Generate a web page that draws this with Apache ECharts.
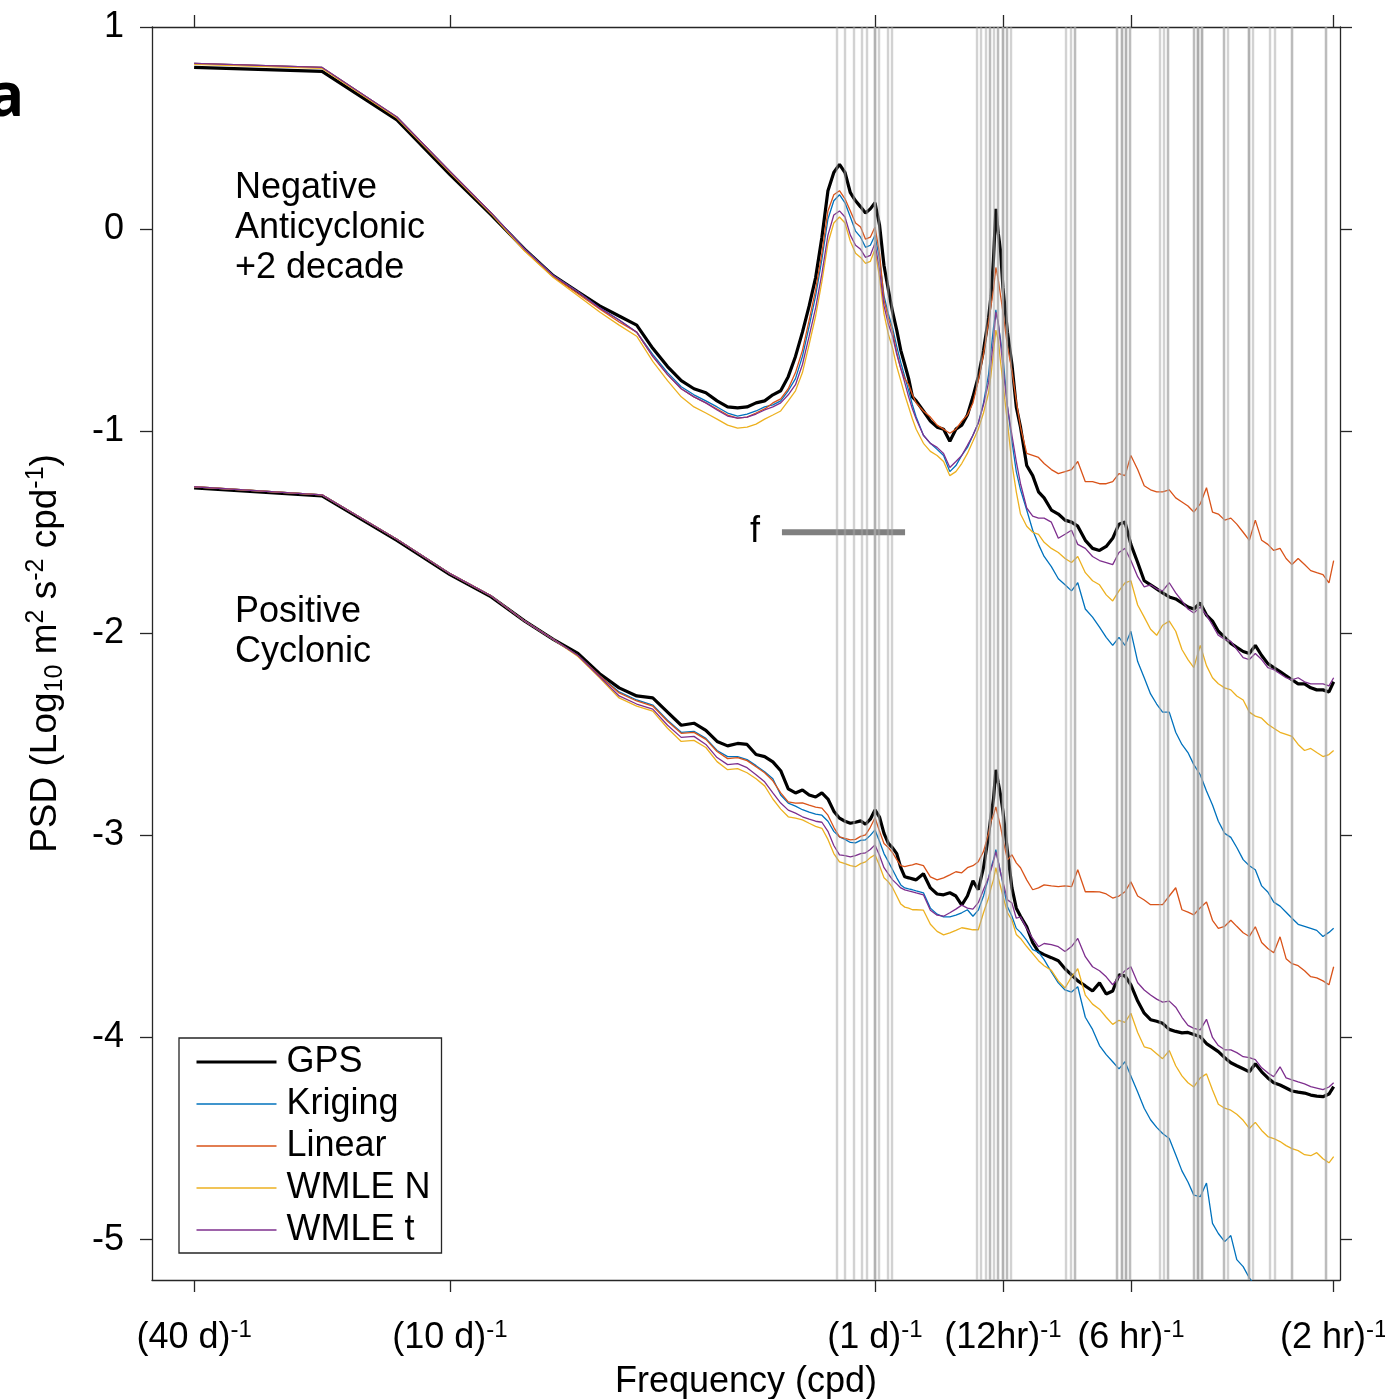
<!DOCTYPE html>
<html>
<head>
<meta charset="utf-8">
<title>PSD rotary spectra</title>
<script src="https://cdn.jsdelivr.net/npm/echarts@6/dist/echarts.min.js"></script>
<style>
html, body { margin: 0; padding: 0; background: #fff; }
#chart { width: 1385px; height: 1399px; }
</style>
</head>
<body>
<div id="chart"></div>
<script>
// frequency grid (cpd), 40 day record
var freq = [
    0.025, 0.05, 0.075, 0.1, 0.125, 0.15, 0.175, 0.2, 0.225, 0.25,
    0.275, 0.3, 0.325, 0.35, 0.375, 0.4, 0.425, 0.45, 0.475, 0.5,
    0.525, 0.55, 0.575, 0.6, 0.625, 0.65, 0.675, 0.7, 0.725, 0.75,
    0.775, 0.8, 0.825, 0.85, 0.875, 0.9, 0.925, 0.95, 0.975, 1.0,
    1.025, 1.05, 1.075, 1.1, 1.125, 1.15, 1.175, 1.2, 1.225, 1.25,
    1.3, 1.35, 1.4, 1.45, 1.5, 1.55, 1.6, 1.65, 1.7, 1.75,
    1.8, 1.85, 1.875, 1.9, 1.925, 1.95, 1.975, 2.0, 2.05, 2.1, 2.15, 2.2,
    2.275, 2.35, 2.425, 2.5, 2.6, 2.7, 2.8, 2.9, 3.0, 3.125,
    3.25, 3.375, 3.5, 3.625, 3.75, 3.875, 4.0, 4.15, 4.3, 4.45,
    4.6, 4.75, 4.925, 5.1, 5.275, 5.45, 5.625, 5.825, 6.025, 6.225,
    6.425, 6.65, 6.875, 7.1, 7.35, 7.6, 7.85, 8.125, 8.4, 8.675,
    8.975, 9.275, 9.575, 9.9, 10.25, 10.6, 10.95, 11.325, 11.7, 12.0
];

// negative (anticyclonic) spectra, shifted +2 decades
var gpsNeg = [
    0.80, 0.78, 0.54, 0.27, 0.07, -0.10, -0.23, -0.31, -0.38, -0.43,
    -0.475, -0.59, -0.68, -0.75, -0.79, -0.81, -0.85, -0.88, -0.885, -0.88,
    -0.86, -0.85, -0.82, -0.80, -0.73, -0.63, -0.51, -0.38, -0.24, -0.04,
    0.19, 0.28, 0.32, 0.28, 0.18, 0.14, 0.11, 0.08, 0.10, 0.13,
    0.02, -0.18, -0.30, -0.41, -0.50, -0.60, -0.67, -0.74, -0.83, -0.85,
    -0.90, -0.95, -0.98, -0.99, -1.05, -0.99, -0.97, -0.92, -0.83, -0.73,
    -0.60, -0.44, -0.33, -0.15, 0.10, -0.02, -0.11, -0.29, -0.51, -0.67, -0.88, -0.98,
    -1.17, -1.22, -1.30, -1.33, -1.39, -1.41, -1.44, -1.45, -1.47, -1.54,
    -1.58, -1.59, -1.57, -1.53, -1.46, -1.45, -1.56, -1.65, -1.74, -1.76,
    -1.78, -1.80, -1.82, -1.83, -1.85, -1.87, -1.88, -1.85, -1.91, -1.94,
    -1.99, -2.02, -2.05, -2.07, -2.09, -2.10, -2.06, -2.11, -2.15, -2.17,
    -2.19, -2.21, -2.23, -2.25, -2.25, -2.27, -2.28, -2.28, -2.29, -2.24
];
var krigNeg = [
    0.82, 0.80, 0.555, 0.285, 0.08, -0.10, -0.23, -0.31, -0.39, -0.45,
    -0.51, -0.62, -0.71, -0.78, -0.82, -0.85, -0.88, -0.91, -0.925, -0.915,
    -0.90, -0.88, -0.87, -0.85, -0.80, -0.74, -0.63, -0.48, -0.33, -0.15,
    0.05, 0.14, 0.17, 0.13, 0.06, -0.01, -0.04, -0.09, -0.08, -0.03,
    -0.15, -0.33, -0.42, -0.49, -0.58, -0.66, -0.73, -0.80, -0.87, -0.93,
    -1.02, -1.06, -1.09, -1.12, -1.20, -1.17, -1.12, -1.08, -1.02, -0.96,
    -0.86, -0.72, -0.60, -0.49, -0.40, -0.47, -0.55, -0.63, -0.88, -1.05, -1.20, -1.29,
    -1.39, -1.49, -1.56, -1.62, -1.67, -1.73, -1.76, -1.79, -1.75, -1.88,
    -1.92, -1.97, -2.02, -2.06, -2.02, -2.06, -1.99, -2.14, -2.22, -2.30,
    -2.35, -2.39, -2.39, -2.49, -2.55, -2.59, -2.65, -2.70, -2.78, -2.85,
    -2.93, -2.99, -3.01, -3.06, -3.12, -3.15, -3.17, -3.25, -3.28, -3.33,
    -3.35, -3.38, -3.41, -3.44, -3.45, -3.46, -3.47, -3.50, -3.48, -3.46
];
var linNeg = [
    0.82, 0.80, 0.555, 0.285, 0.08, -0.105, -0.235, -0.32, -0.395, -0.46,
    -0.51, -0.63, -0.72, -0.79, -0.83, -0.86, -0.89, -0.92, -0.935, -0.93,
    -0.91, -0.89, -0.86, -0.84, -0.79, -0.71, -0.60, -0.45, -0.30, -0.12,
    0.09, 0.17, 0.19, 0.15, 0.09, 0.03, 0.01, -0.05, -0.04, 0.01,
    -0.12, -0.35, -0.44, -0.51, -0.61, -0.69, -0.74, -0.77, -0.82, -0.86,
    -0.90, -0.93, -0.97, -0.99, -1.01, -0.99, -0.95, -0.92, -0.86, -0.75,
    -0.62, -0.46, -0.38, -0.30, -0.19, -0.25, -0.33, -0.41, -0.58, -0.70, -0.85, -0.98,
    -1.11, -1.12, -1.13, -1.16, -1.19, -1.21, -1.20, -1.19, -1.15, -1.25,
    -1.25, -1.26, -1.26, -1.25, -1.21, -1.22, -1.12, -1.19, -1.27, -1.29,
    -1.30, -1.30, -1.29, -1.33, -1.35, -1.37, -1.40, -1.36, -1.28, -1.40,
    -1.41, -1.44, -1.43, -1.46, -1.50, -1.54, -1.44, -1.54, -1.56, -1.59,
    -1.58, -1.63, -1.66, -1.63, -1.66, -1.69, -1.70, -1.71, -1.75, -1.64
];
var wnNeg = [
    0.815, 0.795, 0.55, 0.28, 0.075, -0.11, -0.24, -0.33, -0.41, -0.475,
    -0.53, -0.655, -0.75, -0.83, -0.88, -0.91, -0.94, -0.97, -0.985, -0.98,
    -0.965, -0.94, -0.92, -0.90, -0.85, -0.80, -0.71, -0.57, -0.43, -0.26,
    -0.07, 0.03, 0.06, 0.03, -0.06, -0.12, -0.14, -0.17, -0.16, -0.10,
    -0.24, -0.42, -0.52, -0.59, -0.68, -0.75, -0.82, -0.88, -0.94, -0.99,
    -1.06, -1.10, -1.12, -1.15, -1.22, -1.20, -1.16, -1.11, -1.05, -0.99,
    -0.91, -0.81, -0.72, -0.61, -0.50, -0.55, -0.66, -0.76, -0.96, -1.16, -1.30, -1.41,
    -1.47, -1.50, -1.51, -1.55, -1.58, -1.60, -1.63, -1.65, -1.62, -1.70,
    -1.74, -1.76, -1.81, -1.84, -1.79, -1.75, -1.74, -1.86, -1.92, -1.98,
    -2.01, -1.96, -1.94, -1.99, -2.08, -2.13, -2.17, -2.06, -2.16, -2.22,
    -2.25, -2.27, -2.28, -2.31, -2.33, -2.39, -2.41, -2.42, -2.45, -2.47,
    -2.49, -2.50, -2.51, -2.55, -2.58, -2.57, -2.59, -2.61, -2.60, -2.58
];
var wtNeg = [
    0.82, 0.80, 0.555, 0.285, 0.08, -0.10, -0.23, -0.31, -0.39, -0.45,
    -0.51, -0.63, -0.72, -0.79, -0.83, -0.86, -0.895, -0.925, -0.935, -0.93,
    -0.915, -0.895, -0.88, -0.86, -0.82, -0.77, -0.67, -0.53, -0.39, -0.22,
    -0.03, 0.07, 0.09, 0.06, -0.03, -0.08, -0.10, -0.14, -0.13, -0.07,
    -0.20, -0.38, -0.47, -0.53, -0.62, -0.69, -0.76, -0.83, -0.89, -0.94,
    -1.02, -1.06, -1.08, -1.11, -1.18, -1.15, -1.12, -1.07, -1.02, -0.96,
    -0.87, -0.76, -0.66, -0.55, -0.41, -0.46, -0.57, -0.68, -0.88, -1.02, -1.15, -1.26,
    -1.38, -1.42, -1.43, -1.43, -1.45, -1.53, -1.51, -1.49, -1.56, -1.58,
    -1.62, -1.64, -1.65, -1.66, -1.60, -1.58, -1.64, -1.72, -1.77, -1.76,
    -1.78, -1.79, -1.75, -1.80, -1.84, -1.88, -1.90, -1.87, -1.91, -1.96,
    -2.01, -2.03, -2.04, -2.08, -2.12, -2.13, -2.10, -2.13, -2.17, -2.18,
    -2.20, -2.22, -2.23, -2.22, -2.24, -2.25, -2.25, -2.25, -2.26, -2.22
];

// positive (cyclonic) spectra
var gpsPos = [
    -1.28, -1.32, -1.54, -1.71, -1.82, -1.94, -2.03, -2.10, -2.20, -2.27,
    -2.31, -2.32, -2.39, -2.455, -2.445, -2.48, -2.535, -2.557, -2.545, -2.55,
    -2.60, -2.61, -2.636, -2.68, -2.77, -2.79, -2.775, -2.80, -2.81, -2.79,
    -2.82, -2.88, -2.915, -2.93, -2.94, -2.935, -2.928, -2.945, -2.92, -2.874,
    -2.91, -2.99, -3.04, -3.062, -3.09, -3.16, -3.205, -3.21, -3.215, -3.22,
    -3.19, -3.26, -3.29, -3.294, -3.284, -3.30, -3.345, -3.30, -3.225, -3.269,
    -3.16, -3.00, -2.90, -2.82, -2.676, -2.74, -2.80, -2.88, -3.08, -3.26, -3.36, -3.40,
    -3.452, -3.531, -3.576, -3.59, -3.605, -3.62, -3.66, -3.69, -3.72, -3.745,
    -3.77, -3.73, -3.785, -3.77, -3.69, -3.695, -3.74, -3.82, -3.88, -3.912,
    -3.92, -3.93, -3.96, -3.97, -3.977, -3.975, -3.985, -3.996, -4.03, -4.05,
    -4.07, -4.10, -4.125, -4.14, -4.155, -4.17, -4.13, -4.17, -4.20, -4.224,
    -4.235, -4.25, -4.265, -4.27, -4.275, -4.285, -4.29, -4.293, -4.28, -4.243
];
var krigPos = [
    -1.275, -1.315, -1.535, -1.705, -1.815, -1.94, -2.03, -2.11, -2.21, -2.29,
    -2.33, -2.355, -2.43, -2.49, -2.485, -2.52, -2.58, -2.61, -2.61, -2.625,
    -2.655, -2.685, -2.72, -2.80, -2.84, -2.855, -2.873, -2.885, -2.895, -2.90,
    -2.93, -2.98, -3.007, -3.02, -3.035, -3.037, -3.025, -3.022, -3.00, -2.973,
    -3.03, -3.09, -3.13, -3.17, -3.21, -3.245, -3.26, -3.265, -3.269, -3.275,
    -3.284, -3.36, -3.39, -3.403, -3.403, -3.395, -3.383, -3.368, -3.40, -3.37,
    -3.30, -3.21, -3.16, -3.12, -3.071, -3.13, -3.185, -3.24, -3.353, -3.40, -3.46, -3.48,
    -3.52, -3.565, -3.578, -3.615, -3.675, -3.73, -3.765, -3.775, -3.749, -3.90,
    -3.96, -4.04, -4.085, -4.12, -4.155, -4.12, -4.19, -4.27, -4.35, -4.407,
    -4.445, -4.475, -4.50, -4.58, -4.66, -4.715, -4.78, -4.788, -4.72, -4.92,
    -4.97, -5.01, -4.98, -5.099, -5.134, -5.19, -5.23, null, null, null,
    null, null, null, null, null, null, null, null, null, null
];
var linPos = [
    -1.275, -1.315, -1.535, -1.705, -1.815, -1.94, -2.03, -2.11, -2.21, -2.295,
    -2.335, -2.36, -2.435, -2.495, -2.49, -2.525, -2.585, -2.62, -2.615, -2.63,
    -2.66, -2.69, -2.73, -2.79, -2.834, -2.84, -2.839, -2.85, -2.86, -2.865,
    -2.90, -2.96, -3.007, -3.015, -3.022, -3.02, -3.005, -2.997, -2.96, -2.913,
    -2.98, -3.04, -3.06, -3.086, -3.12, -3.15, -3.155, -3.15, -3.146, -3.14,
    -3.15, -3.205, -3.22, -3.21, -3.195, -3.18, -3.185, -3.16, -3.15, -3.13,
    -3.08, -2.99, -2.93, -2.90, -2.859, -2.91, -2.958, -3.02, -3.121, -3.096, -3.136, -3.16,
    -3.22, -3.269, -3.26, -3.245, -3.25, -3.254, -3.25, -3.254, -3.17, -3.279,
    -3.279, -3.28, -3.29, -3.31, -3.30, -3.279, -3.23, -3.30, -3.32, -3.343,
    -3.343, -3.343, -3.30, -3.259, -3.368, -3.38, -3.393, -3.358, -3.33, -3.42,
    -3.46, -3.45, -3.42, -3.45, -3.482, -3.50, -3.452, -3.53, -3.56, -3.581,
    -3.502, -3.61, -3.635, -3.645, -3.67, -3.699, -3.705, -3.72, -3.739, -3.65
];
var wnPos = [
    -1.275, -1.315, -1.535, -1.705, -1.815, -1.94, -2.03, -2.115, -2.22, -2.32,
    -2.36, -2.385, -2.47, -2.535, -2.53, -2.565, -2.635, -2.675, -2.67, -2.69,
    -2.72, -2.755, -2.82, -2.87, -2.908, -2.915, -2.923, -2.94, -2.955, -2.965,
    -3.02, -3.09, -3.131, -3.14, -3.15, -3.155, -3.14, -3.131, -3.11, -3.096,
    -3.15, -3.21, -3.23, -3.259, -3.30, -3.34, -3.355, -3.36, -3.368, -3.368,
    -3.37, -3.44, -3.475, -3.492, -3.482, -3.47, -3.457, -3.462, -3.467, -3.467,
    -3.383, -3.31, -3.26, -3.22, -3.16, -3.21, -3.254, -3.30, -3.383, -3.42, -3.49, -3.51,
    -3.55, -3.585, -3.62, -3.645, -3.668, -3.72, -3.755, -3.70, -3.66, -3.79,
    -3.835, -3.86, -3.90, -3.935, -3.915, -3.925, -3.88, -3.975, -4.046, -4.055,
    -4.08, -4.105, -4.065, -4.14, -4.19, -4.224, -4.245, -4.20, -4.18, -4.26,
    -4.33, -4.35, -4.36, -4.38, -4.41, -4.45, -4.42, -4.46, -4.49, -4.50,
    -4.515, -4.535, -4.55, -4.56, -4.58, -4.585, -4.57, -4.60, -4.62, -4.59
];
var wtPos = [
    -1.275, -1.315, -1.535, -1.705, -1.815, -1.94, -2.03, -2.11, -2.215, -2.31,
    -2.35, -2.375, -2.455, -2.515, -2.51, -2.55, -2.615, -2.65, -2.645, -2.665,
    -2.70, -2.735, -2.79, -2.84, -2.875, -2.89, -2.908, -2.92, -2.93, -2.935,
    -2.98, -3.05, -3.096, -3.10, -3.106, -3.10, -3.09, -3.086, -3.07, -3.047,
    -3.10, -3.16, -3.19, -3.22, -3.24, -3.26, -3.27, -3.275, -3.279, -3.285,
    -3.294, -3.37, -3.395, -3.40, -3.383, -3.365, -3.345, -3.36, -3.365, -3.333,
    -3.269, -3.21, -3.17, -3.13, -3.081, -3.13, -3.185, -3.23, -3.319, -3.335, -3.41, -3.403,
    -3.46, -3.51, -3.551, -3.535, -3.54, -3.551, -3.575, -3.55, -3.51, -3.60,
    -3.65, -3.67, -3.70, -3.739, -3.70, -3.67, -3.65, -3.729, -3.765, -3.79,
    -3.81, -3.825, -3.82, -3.85, -3.90, -3.94, -3.955, -3.962, -3.91, -4.00,
    -4.04, -4.061, -4.061, -4.075, -4.095, -4.10, -4.11, -4.15, -4.175, -4.194,
    -4.145, -4.20, -4.21, -4.22, -4.23, -4.243, -4.25, -4.258, -4.245, -4.224
];

// tidal constituent frequencies (cpd), drawn as gray lines
var tideFreq = [
    0.822, 0.853, 0.891, 0.925, 0.961, 0.995, 0.998, 1.001, 1.031, 1.070, 1.105,
    1.755, 1.785, 1.815, 1.845, 1.870, 1.898, 1.932, 1.958, 1.978, 1.998, 2.003, 2.033, 2.063, 2.088,
    2.81, 2.86, 2.92, 2.98,
    3.71, 3.74, 3.77, 3.80, 3.83, 3.86, 3.89, 3.92, 3.95, 3.97,
    4.69, 4.77, 4.88, 4.95,
    5.61, 5.65, 5.69, 5.73, 5.77, 5.81, 5.85, 5.89, 5.92,
    6.60, 6.67, 6.77,
    7.51, 7.59, 7.67, 7.75,
    8.53, 8.63,
    9.46, 9.62,
    11.40, 11.48
];
var inertialRange = [0.604, 1.177];
var inertialLevel = -1.5;

var tickFreq = [0.025, 0.1, 1, 2, 4, 12];
var tickText = ['(40 d)', '(10 d)', '(1 d)', '(12hr)', '(6 hr)', '(2 hr)'];
var yTicks = [-5, -4, -3, -2, -1, 0, 1];
var xRange = [0.0199, 12.42];
var yRange = [-5.2, 1];

var FONT = 'Liberation Sans, Arial, Helvetica, sans-serif';
var AXC = '#262626';
var colors = { 'GPS': '#000000', 'Kriging': '#0072BD', 'Linear': '#D95319', 'WMLE N': '#EDB120', 'WMLE t': '#7E2F8E' };

function toXY(vals) {
    var out = [];
    for (var i = 0; i < freq.length; i++) {
        if (vals[i] == null) continue;
        out.push([Math.log10(freq[i]), vals[i]]);
    }
    return out;
}

function curve(name, vals) {
    return {
        name: name,
        type: 'line',
        data: toXY(vals),
        symbol: 'none',
        showSymbol: false,
        z: 3,
        lineStyle: { color: colors[name], width: name == 'GPS' ? 3.2 : 1.3 },
        // symbols are never drawn, keep the legend marker invisible too
        itemStyle: { color: colors[name], opacity: 0 },
        emphasis: { disabled: true }
    };
}

function freqLabel(v) {
    for (var i = 0; i < tickFreq.length; i++) {
        if (Math.abs(Math.log10(tickFreq[i]) - v) < 1e-6) {
            return '{m|' + tickText[i] + '}{s|-1}';
        }
    }
    return '';
}

var xTickVals = tickFreq.map(function (f) { return Math.log10(f); });

var myChart = echarts.init(document.getElementById('chart'));
var option = {
    animation: false,
    backgroundColor: '#fff',
    grid: { left: 152, right: 45, top: 27, bottom: 119, containLabel: false, outerBoundsMode: 'none' },
    xAxis: [
        {
            type: 'value',
            min: Math.log10(xRange[0]),
            max: Math.log10(xRange[1]),
            position: 'bottom',
            splitLine: { show: false },
            axisLine: { show: true, onZero: false, lineStyle: { color: AXC, width: 1.3 } },
            axisTick: { show: true, customValues: xTickVals, length: 12, lineStyle: { color: AXC, width: 1.3 } },
            axisLabel: {
                customValues: xTickVals,
                margin: 38,
                formatter: freqLabel,
                rich: {
                    m: { fontSize: 36, fontFamily: FONT, color: '#000', lineHeight: 40 },
                    s: { fontSize: 24, fontFamily: FONT, color: '#000', lineHeight: 8, verticalAlign: 'top' }
                }
            },
            name: 'Frequency (cpd)',
            nameLocation: 'middle',
            nameGap: 84,
            nameTextStyle: { fontSize: 36, fontFamily: FONT, color: '#000' }
        },
        {
            type: 'value',
            min: Math.log10(xRange[0]),
            max: Math.log10(xRange[1]),
            position: 'top',
            splitLine: { show: false },
            axisLine: { show: true, onZero: false, lineStyle: { color: AXC, width: 1.3 } },
            axisTick: { show: true, customValues: xTickVals, length: 12, lineStyle: { color: AXC, width: 1.3 } },
            axisLabel: { show: false }
        }
    ],
    yAxis: [
        {
            type: 'value',
            min: yRange[0],
            max: yRange[1],
            position: 'left',
            splitLine: { show: false },
            axisLine: { show: true, onZero: false, lineStyle: { color: AXC, width: 1.3 } },
            axisTick: { show: true, customValues: yTicks, length: 12, lineStyle: { color: AXC, width: 1.3 } },
            axisLabel: {
                customValues: yTicks,
                margin: 28,
                fontSize: 36,
                fontFamily: FONT,
                color: '#000'
            },
            name: 'PSD (Log{sub|10} m{sup|2} s{sup|-2} cpd{sup|-1})',
            nameLocation: 'middle',
            nameGap: 84,
            nameTextStyle: {
                fontSize: 37,
                fontFamily: FONT,
                color: '#000',
                lineHeight: 44,
                rich: {
                    sub: { fontSize: 25, fontFamily: FONT, color: '#000', lineHeight: 16, verticalAlign: 'bottom' },
                    sup: { fontSize: 25, fontFamily: FONT, color: '#000', lineHeight: 10, verticalAlign: 'top' }
                }
            }
        },
        {
            type: 'value',
            min: yRange[0],
            max: yRange[1],
            position: 'right',
            splitLine: { show: false },
            axisLine: { show: true, onZero: false, lineStyle: { color: AXC, width: 1.3 } },
            axisTick: { show: true, customValues: yTicks, length: 12, lineStyle: { color: AXC, width: 1.3 } },
            axisLabel: { show: false }
        }
    ],
    legend: {
        data: [
            { name: 'GPS', lineStyle: { width: 3 } },
            { name: 'Kriging', lineStyle: { width: 1.5 } },
            { name: 'Linear', lineStyle: { width: 1.5 } },
            { name: 'WMLE N', lineStyle: { width: 1.5 } },
            { name: 'WMLE t', lineStyle: { width: 1.5 } }
        ],
        orient: 'vertical',
        left: 179,
        top: 1038,
        itemWidth: 80,
        itemHeight: 14,
        itemGap: 6,
        padding: [6, 11, 5, 16],
        borderColor: AXC,
        borderWidth: 1.3,
        borderRadius: 0,
        backgroundColor: '#fff',
        selectedMode: false,
        itemStyle: { opacity: 0 },
        textStyle: { fontSize: 36, fontFamily: FONT, color: '#000', lineHeight: 36, padding: [0, 0, 0, 5] }
    },
    graphic: [
        { type: 'text', x: -12, y: 69, style: { text: 'a', fontFamily: 'Open Sans', fontWeight: 'bold', fontSize: 60, fill: '#000', verticalAlign: 'top' } },
        { type: 'text', x: 235, y: 168, style: { text: 'Negative\nAnticyclonic\n+2 decade', fontFamily: FONT, fontSize: 36, lineHeight: 40, fill: '#000', verticalAlign: 'top' } },
        { type: 'text', x: 235, y: 592, style: { text: 'Positive\nCyclonic', fontFamily: FONT, fontSize: 36, lineHeight: 40, fill: '#000', verticalAlign: 'top' } }
    ],
    series: [
        {
            name: 'tides',
            type: 'line',
            data: [],
            z: 1,
            silent: true,
            markLine: {
                silent: true,
                animation: false,
                symbol: ['none', 'none'],
                label: { show: false },
                lineStyle: { color: 'rgba(165,165,165,0.5)', width: 2.4, type: 'solid' },
                data: tideFreq.map(function (f) { return { xAxis: Math.log10(f) }; })
            }
        },
        {
            name: 'inertial',
            type: 'line',
            z: 2,
            silent: true,
            symbol: 'circle',
            symbolSize: 0,
            showSymbol: true,
            lineStyle: { color: '#808080', width: 6 },
            itemStyle: { color: '#808080' },
            data: [
                {
                    value: [Math.log10(inertialRange[0]), inertialLevel],
                    label: { show: true, formatter: 'f', position: 'left', distance: 22, fontSize: 36, fontFamily: FONT, color: '#000' }
                },
                [Math.log10(inertialRange[1]), inertialLevel]
            ]
        },
        curve('GPS', gpsNeg),
        curve('Kriging', krigNeg),
        curve('Linear', linNeg),
        curve('WMLE N', wnNeg),
        curve('WMLE t', wtNeg),
        curve('GPS', gpsPos),
        curve('Kriging', krigPos),
        curve('Linear', linPos),
        curve('WMLE N', wnPos),
        curve('WMLE t', wtPos)
    ]
};
myChart.setOption(option);
</script>
</body>
</html>
